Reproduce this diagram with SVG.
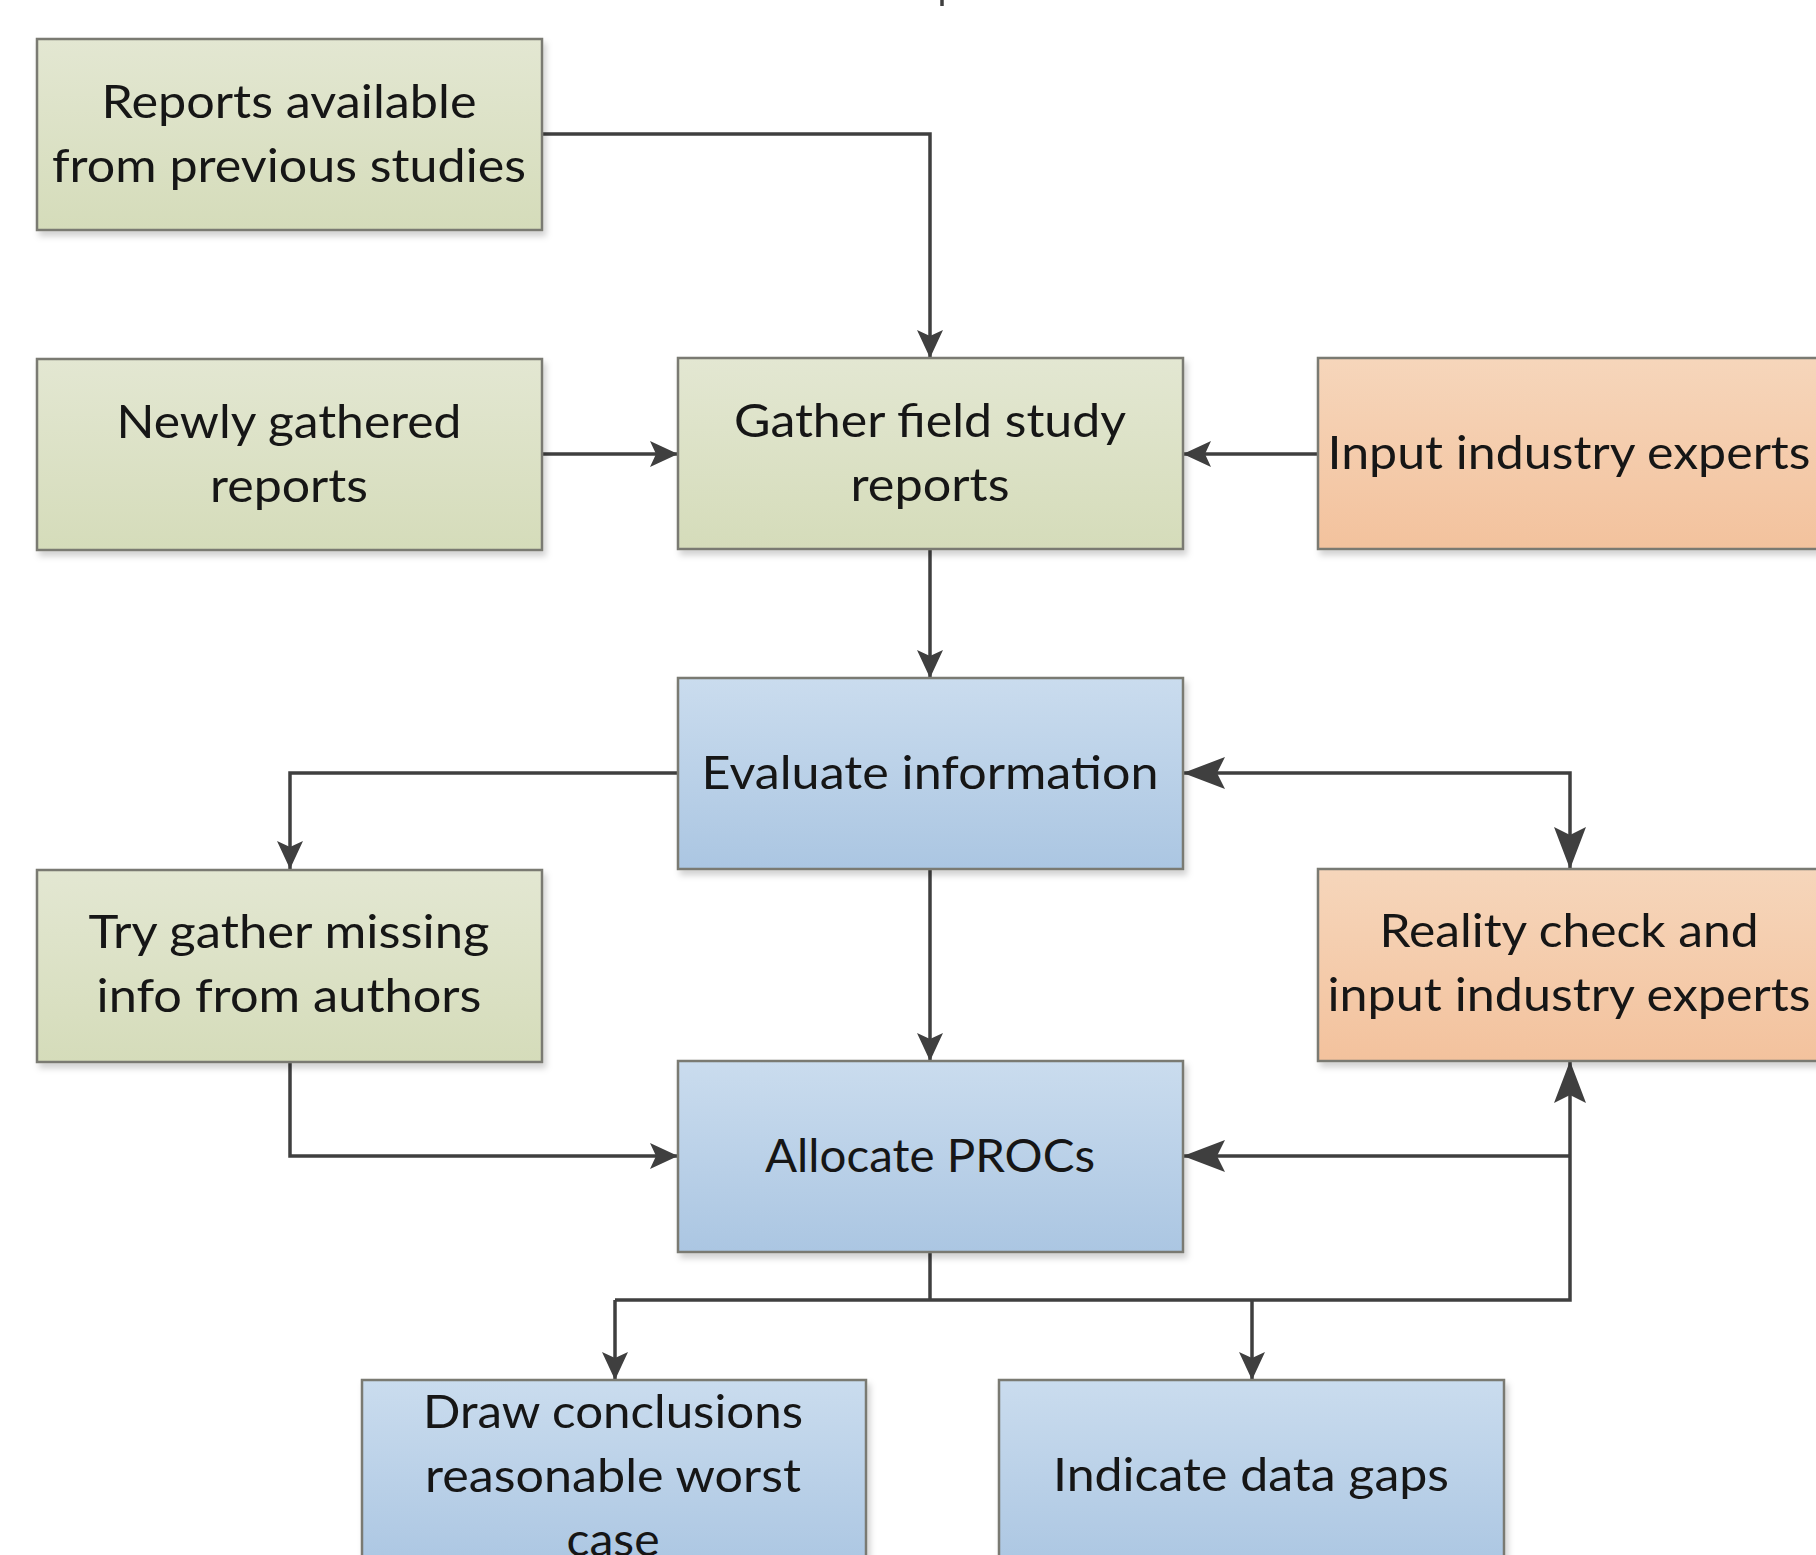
<svg xmlns="http://www.w3.org/2000/svg" width="1816" height="1555" viewBox="0 0 1816 1555">
<style>
  .box { stroke: #7a7a72; stroke-width: 2.5; filter: url(#sh); }
  .g { fill: url(#gGreen); }
  .o { fill: url(#gOrange); }
  .b { fill: url(#gBlue); }
  .t { font-family: Lato, "Open Sans", "Liberation Sans", sans-serif; font-size: 47px; fill: #161616; text-anchor: middle; }
  .c { fill: none; stroke: #3f3f3f; stroke-width: 3.5; }
  .s { marker-end: url(#aS); }
  .l { marker-end: url(#aL); }
</style>
<defs>
  <linearGradient id="gGreen" x1="0" y1="0" x2="0" y2="1">
    <stop offset="0" stop-color="#e3e7d2"/>
    <stop offset="1" stop-color="#d5dcba"/>
  </linearGradient>
  <linearGradient id="gOrange" x1="0" y1="0" x2="0" y2="1">
    <stop offset="0" stop-color="#f6d6bb"/>
    <stop offset="1" stop-color="#f3c29d"/>
  </linearGradient>
  <linearGradient id="gBlue" x1="0" y1="0" x2="0" y2="1">
    <stop offset="0" stop-color="#cadcee"/>
    <stop offset="1" stop-color="#abc6e2"/>
  </linearGradient>
  <filter id="sh" x="-5%" y="-5%" width="115%" height="120%">
    <feDropShadow dx="3" dy="5" stdDeviation="3" flood-color="#000" flood-opacity="0.18"/>
  </filter>
  <marker id="aS" markerUnits="userSpaceOnUse" markerWidth="28" markerHeight="26" viewBox="0 0 28 26" refX="28" refY="13" orient="auto-start-reverse">
    <path d="M0,0 L28,13 L0,26 L6,13 z" fill="#3f3f3f"/>
  </marker>
  <marker id="aL" markerUnits="userSpaceOnUse" markerWidth="42" markerHeight="32" viewBox="0 0 42 32" refX="42" refY="16" orient="auto-start-reverse">
    <path d="M0,0 L42,16 L0,32 L8,16 z" fill="#3f3f3f"/>
  </marker>
</defs>
<rect width="1816" height="1555" fill="#ffffff"/>

<g id="connectors">
  <path class="c" d="M942,0 V6"/>
  <path class="c s" d="M542,134 H930 V358"/>
  <path class="c s" d="M542,454 H678"/>
  <path class="c s" d="M1318,454 H1183"/>
  <path class="c s" d="M930,549 V678"/>
  <path class="c s" d="M678,773 H290 V869"/>
  <path class="c l" d="M1183,773 H1570 V869" marker-start="url(#aL)"/>
  <path class="c s" d="M930,869 V1061"/>
  <path class="c s" d="M290,1062 V1156 H678"/>
  <path class="c" d="M930,1252 V1300"/>
  <path class="c l" d="M615,1300 H1570 V1061"/>
  <path class="c l" d="M1570,1156 H1183"/>
  <path class="c s" d="M615,1300 V1380"/>
  <path class="c s" d="M1252,1300 V1380"/>
</g>

<g id="n-reports-previous">
  <rect class="box g" x="37" y="39" width="505" height="191"/>
  <text class="t" x="289" y="118" textLength="375" lengthAdjust="spacingAndGlyphs">Reports available</text>
  <text class="t" x="289" y="182" textLength="474" lengthAdjust="spacingAndGlyphs">from previous studies</text>
</g>
<g id="n-newly-gathered">
  <rect class="box g" x="37" y="359" width="505" height="191"/>
  <text class="t" x="289" y="438" textLength="345" lengthAdjust="spacingAndGlyphs">Newly gathered</text>
  <text class="t" x="289" y="502" textLength="158" lengthAdjust="spacingAndGlyphs">reports</text>
</g>
<g id="n-gather-field">
  <rect class="box g" x="678" y="358" width="505" height="191"/>
  <text class="t" x="930" y="437" textLength="392" lengthAdjust="spacingAndGlyphs">Gather field study</text>
  <text class="t" x="930" y="501" textLength="159" lengthAdjust="spacingAndGlyphs">reports</text>
</g>
<g id="n-input-experts">
  <rect class="box o" x="1318" y="358" width="510" height="191"/>
  <text class="t" x="1569" y="469" textLength="483" lengthAdjust="spacingAndGlyphs">Input industry experts</text>
</g>
<g id="n-evaluate">
  <rect class="box b" x="678" y="678" width="505" height="191"/>
  <text class="t" x="930" y="789" textLength="457" lengthAdjust="spacingAndGlyphs">Evaluate information</text>
</g>
<g id="n-try-gather">
  <rect class="box g" x="37" y="870" width="505" height="192"/>
  <text class="t" x="289" y="948" textLength="401" lengthAdjust="spacingAndGlyphs">Try gather missing</text>
  <text class="t" x="289" y="1012" textLength="385" lengthAdjust="spacingAndGlyphs">info from authors</text>
</g>
<g id="n-reality-check">
  <rect class="box o" x="1318" y="869" width="510" height="192"/>
  <text class="t" x="1569" y="947" textLength="379" lengthAdjust="spacingAndGlyphs">Reality check and</text>
  <text class="t" x="1569" y="1011" textLength="483" lengthAdjust="spacingAndGlyphs">input industry experts</text>
</g>
<g id="n-allocate">
  <rect class="box b" x="678" y="1061" width="505" height="191"/>
  <text class="t" x="930" y="1172" textLength="330" lengthAdjust="spacingAndGlyphs">Allocate PROCs</text>
</g>
<g id="n-draw-conclusions">
  <rect class="box b" x="362" y="1380" width="504" height="191"/>
  <text class="t" x="613" y="1428" textLength="380" lengthAdjust="spacingAndGlyphs">Draw conclusions</text>
  <text class="t" x="613" y="1492" textLength="376" lengthAdjust="spacingAndGlyphs">reasonable worst</text>
  <text class="t" x="613" y="1556" textLength="93" lengthAdjust="spacingAndGlyphs">case</text>
</g>
<g id="n-data-gaps">
  <rect class="box b" x="999" y="1380" width="505" height="191"/>
  <text class="t" x="1251" y="1491" textLength="396" lengthAdjust="spacingAndGlyphs">Indicate data gaps</text>
</g>
</svg>
